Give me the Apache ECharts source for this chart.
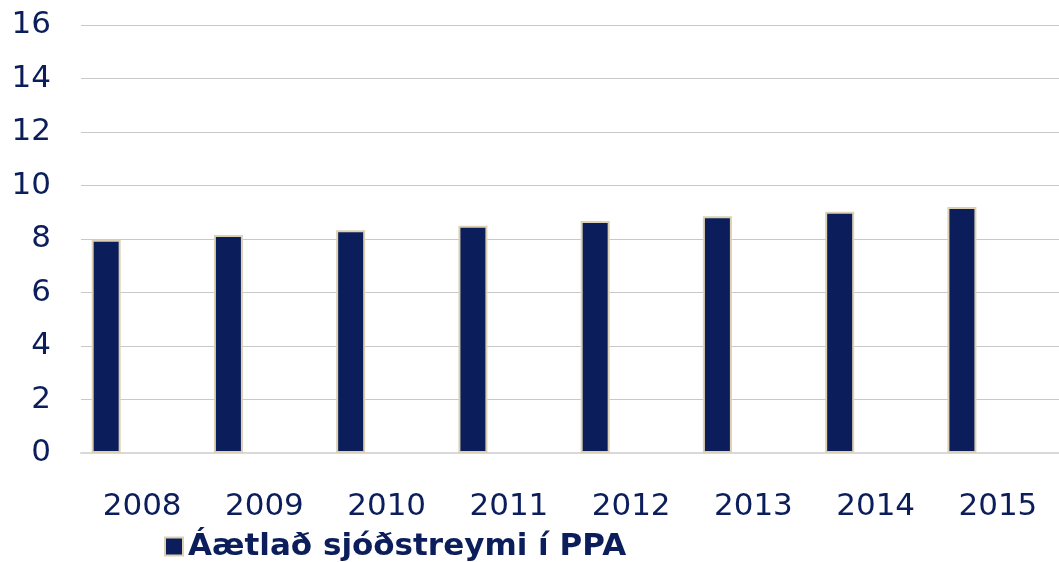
<!DOCTYPE html>
<html>
<head>
<meta charset="utf-8">
<script src="https://cdn.jsdelivr.net/npm/echarts@6/dist/echarts.min.js"></script>
<style>
  html, body { margin: 0; padding: 0; background: #fff; }
  #chart { width: 1059px; height: 562px; }
</style>
</head>
<body>
<div id="chart"></div>
<script>
const years = ['2008', '2009', '2010', '2011', '2012', '2013', '2014', '2015']
const cashflow = [7.97, 8.15, 8.33, 8.5, 8.67, 8.85, 9.02, 9.2]
// second (empty) series in the original pushes the bars to the left of each slot
const emptySlot = [null, null, null, null, null, null, null, null]
const seriesName = 'Áætlað sjóðstreymi í PPA'

const navy = '#0b1e5b'
const beige = '#ddd1b4'

const chart = echarts.init(document.getElementById('chart'))
chart.setOption({
  animation: false,
  textStyle: { fontFamily: 'DejaVu Sans' },
  grid: {
    left: 81,
    top: 25,
    width: 986,
    height: 428
  },
  legend: {
    data: [seriesName],
    icon: 'rect',
    left: 159,
    top: 526,
    itemWidth: 18,
    itemHeight: 18,
    itemGap: 8,
    textStyle: {
      color: navy,
      fontSize: 31,
      fontWeight: 'bold',
      fontFamily: 'DejaVu Sans'
    }
  },
  xAxis: {
    type: 'category',
    data: years,
    axisLine: { show: true, lineStyle: { color: '#d9d9d9', width: 2 } },
    axisTick: { show: false },
    axisLabel: {
      color: navy,
      fontSize: 31,
      margin: 38
    }
  },
  yAxis: {
    type: 'value',
    min: 0,
    max: 16,
    interval: 2,
    axisLine: { show: false },
    axisTick: { show: false },
    axisLabel: {
      color: navy,
      fontSize: 31,
      margin: 30
    },
    splitLine: {
      lineStyle: { color: '#c8c8c8', width: 1 }
    }
  },
  series: [
    {
      type: 'bar',
      name: seriesName,
      data: cashflow,
      barWidth: 29,
      barGap: '148%',
      itemStyle: {
        color: navy,
        borderColor: beige,
        borderWidth: 2
      }
    },
    {
      type: 'bar',
      name: 'empty',
      data: emptySlot,
      barWidth: 29
    }
  ]
})
</script>
</body>
</html>
